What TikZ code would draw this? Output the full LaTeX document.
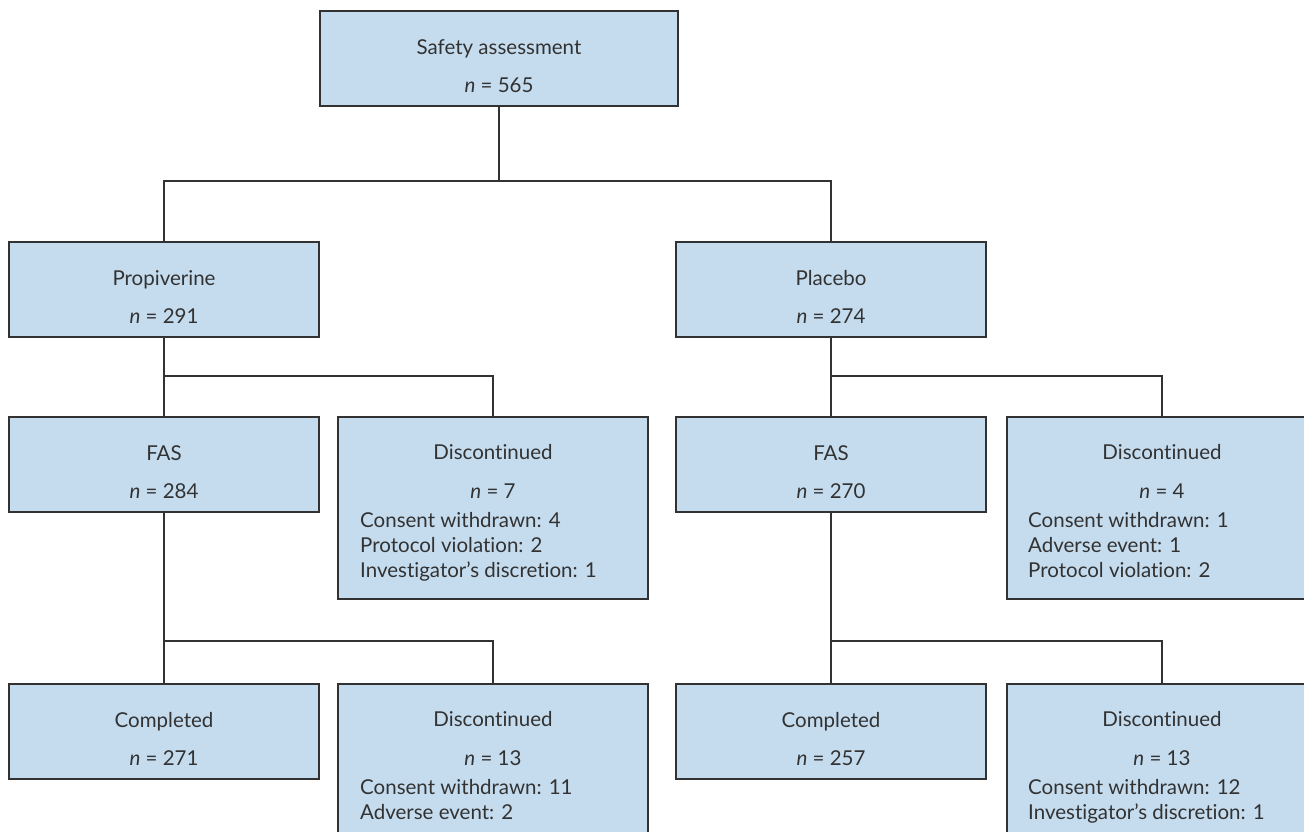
\documentclass[tikz,border=0pt]{standalone}
\usepackage{fontspec}
\setmainfont{Lato}[Ligatures={NoCommon}]
\usetikzlibrary{calc}
\definecolor{boxblue}{RGB}{197,220,239}
\definecolor{ink}{RGB}{50,50,50}
\newcommand*{\boxw }{310pt}
\newcommand*{\boxh }{95pt}
\newcommand*{\disch}{182pt}

\begin{document}
\begin{tikzpicture}[x=1pt, y=-1pt, font=\fontsize{20.5}{24}\selectfont, text=ink,
    box/.style={draw=ink, line width=1.3pt, fill=boxblue, minimum width=\boxw, minimum height=\boxh, inner sep=0pt, outer sep=0pt, anchor=north west},
    discbox/.style={box, minimum height=\disch},
    lbl/.style={anchor=base, inner sep=0pt},
    item/.style={anchor=base west, inner sep=0pt},
    link/.style={draw=ink, line width=1.3pt}]
    \useasboundingbox (0,0) rectangle (1304,831);
    \clip (0,0) rectangle (1304,831);

    % boxes
    \node [box, minimum width=358pt] (safety) at (320,11) {};
    \node [box] (prop)  at (9,242) {};
    \node [box] (plac)  at (676,242) {};
    \node [box] (fasL)  at (9,417) {};
    \node [discbox] (discL1) at (338,417) {};
    \node [box] (fasR)  at (676,417) {};
    \node [discbox] (discR1) at (1007,417) {};
    \node [box] (compL) at (9,684) {};
    \node [discbox] (discL2) at (338,684) {};
    \node [box] (compR) at (676,684) {};
    \node [discbox] (discR2) at (1007,684) {};

    % junctions
    \coordinate (j1) at (499,181);
    \coordinate (j2) at (164,376);
    \coordinate (j3) at (831,376);
    \coordinate (j4) at (164,641);
    \coordinate (j5) at (831,641);

    \draw [link] (safety.south) -- (j1);
    \draw [link] (prop.north) |- (j1) -| (plac.north);
    \draw [link] (prop.south) -- (fasL.north);
    \draw [link] (j2) -| (discL1.north);
    \draw [link] (plac.south) -- (fasR.north);
    \draw [link] (j3) -| (discR1.north);
    \draw [link] (fasL.south) -- (compL.north);
    \draw [link] (j4) -| (discL2.north);
    \draw [link] (fasR.south) -- (compR.north);
    \draw [link] (j5) -| (discR2.north);

    % texts
    \node [lbl] (safety-t) at ([yshift=-43pt]safety.north) {Safety assessment};
    \node [lbl] (safety-n) at ([yshift=-81pt]safety.north) {\textit{n} = 565};
    \node [lbl] (prop-t) at ([yshift=-43pt]prop.north) {Propiverine};
    \node [lbl] (prop-n) at ([yshift=-81pt]prop.north) {\textit{n} = 291};
    \node [lbl] (plac-t) at ([yshift=-43pt]plac.north) {Placebo};
    \node [lbl] (plac-n) at ([yshift=-81pt]plac.north) {\textit{n} = 274};
    \node [lbl] (fasL-t) at ([yshift=-43pt]fasL.north) {FAS};
    \node [lbl] (fasL-n) at ([yshift=-81pt]fasL.north) {\textit{n} = 284};
    \node [lbl] (fasR-t) at ([yshift=-43pt]fasR.north) {FAS};
    \node [lbl] (fasR-n) at ([yshift=-81pt]fasR.north) {\textit{n} = 270};
    \node [lbl] (compL-t) at ([yshift=-43pt]compL.north) {Completed};
    \node [lbl] (compL-n) at ([yshift=-81pt]compL.north) {\textit{n} = 271};
    \node [lbl] (compR-t) at ([yshift=-43pt]compR.north) {Completed};
    \node [lbl] (compR-n) at ([yshift=-81pt]compR.north) {\textit{n} = 257};

    \node [lbl] (discL1-t) at ([yshift=-42pt]discL1.north) {Discontinued};
    \node [lbl] (discL1-n) at ([yshift=-81pt]discL1.north) {\textit{n} = 7};
    \foreach \txt [count=\i] in {Consent withdrawn: 4, Protocol violation: 2, Investigator’s discretion: 1}
        \node [item] (discL1-\i) at ([xshift=22pt, yshift={-85pt-25pt*\i}]discL1.north west) {\txt};

    \node [lbl] (discR1-t) at ([yshift=-42pt]discR1.north) {Discontinued};
    \node [lbl] (discR1-n) at ([yshift=-81pt]discR1.north) {\textit{n} = 4};
    \foreach \txt [count=\i] in {Consent withdrawn: 1, Adverse event: 1, Protocol violation: 2}
        \node [item] (discR1-\i) at ([xshift=21pt, yshift={-85pt-25pt*\i}]discR1.north west) {\txt};

    \node [lbl] (discL2-t) at ([yshift=-42pt]discL2.north) {Discontinued};
    \node [lbl] (discL2-n) at ([yshift=-81pt]discL2.north) {\textit{n} = 13};
    \foreach \txt [count=\i] in {Consent withdrawn: 11, Adverse event: 2}
        \node [item] (discL2-\i) at ([xshift=22pt, yshift={-85pt-25pt*\i}]discL2.north west) {\txt};

    \node [lbl] (discR2-t) at ([yshift=-42pt]discR2.north) {Discontinued};
    \node [lbl] (discR2-n) at ([yshift=-81pt]discR2.north) {\textit{n} = 13};
    \foreach \txt [count=\i] in {Consent withdrawn: 12, Investigator’s discretion: 1}
        \node [item] (discR2-\i) at ([xshift=21pt, yshift={-85pt-25pt*\i}]discR2.north west) {\txt};
\end{tikzpicture}
\end{document}
